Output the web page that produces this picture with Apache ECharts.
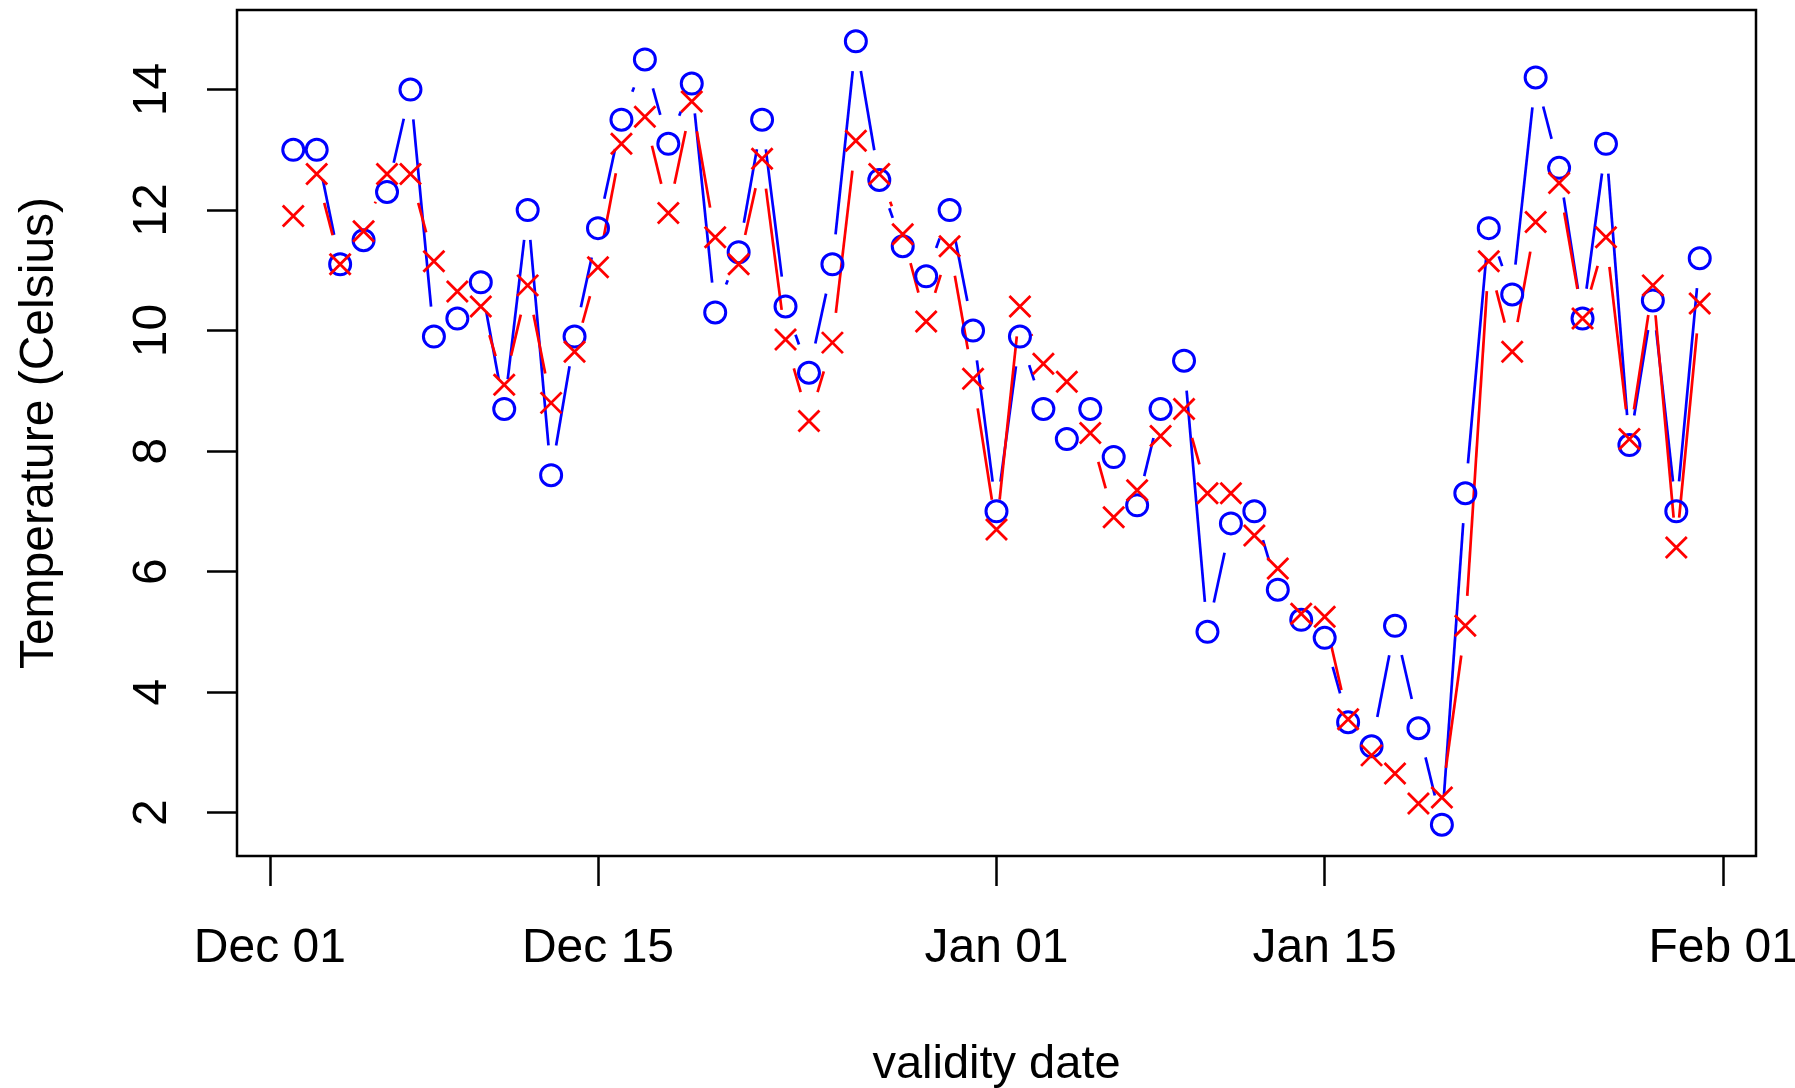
<!DOCTYPE html>
<html>
<head>
<meta charset="utf-8">
<title>Temperature by validity date</title>
<script src="https://cdn.jsdelivr.net/npm/echarts@6/dist/echarts.min.js"></script>
<style>
  html, body { margin: 0; padding: 0; background: #fff; }
  #chart { width: 1795px; height: 1088px; }
</style>
</head>
<body>
<div id="chart"></div>
<script>
// one value per day, Dec 02 .. Jan 31
const dates = [
  '2014-12-02', '2014-12-03', '2014-12-04', '2014-12-05', '2014-12-06', '2014-12-07', '2014-12-08',
  '2014-12-09', '2014-12-10', '2014-12-11', '2014-12-12', '2014-12-13', '2014-12-14', '2014-12-15',
  '2014-12-16', '2014-12-17', '2014-12-18', '2014-12-19', '2014-12-20', '2014-12-21', '2014-12-22',
  '2014-12-23', '2014-12-24', '2014-12-25', '2014-12-26', '2014-12-27', '2014-12-28', '2014-12-29',
  '2014-12-30', '2014-12-31', '2015-01-01', '2015-01-02', '2015-01-03', '2015-01-04', '2015-01-05',
  '2015-01-06', '2015-01-07', '2015-01-08', '2015-01-09', '2015-01-10', '2015-01-11', '2015-01-12',
  '2015-01-13', '2015-01-14', '2015-01-15', '2015-01-16', '2015-01-17', '2015-01-18', '2015-01-19',
  '2015-01-20', '2015-01-21', '2015-01-22', '2015-01-23', '2015-01-24', '2015-01-25', '2015-01-26',
  '2015-01-27', '2015-01-28', '2015-01-29', '2015-01-30', '2015-01-31'
]

// blue circles
const observed = [
  13.0, 13.0, 11.1, 11.5, 12.3, 14.0, 9.9, 10.2, 10.8, 8.7, 12.0, 7.6, 9.9, 11.7,
  13.5, 14.5, 13.1, 14.1, 10.3, 11.3, 13.5, 10.4, 9.3, 11.1, 14.8, 12.5, 11.4, 10.9,
  12.0, 10.0, 7.0, 9.9, 8.7, 8.2, 8.7, 7.9, 7.1, 8.7, 9.5, 5.0, 6.8, 7.0, 5.7, 5.2,
  4.9, 3.5, 3.1, 5.1, 3.4, 1.8, 7.3, 11.7, 10.6, 14.2, 12.7, 10.2, 13.1, 8.1, 10.5,
  7.0, 11.2
]

// red crosses
const forecast = [
  11.9, 12.6, 11.1, 11.65, 12.6, 12.6, 11.15, 10.65, 10.4, 9.1, 10.75, 8.8, 9.65, 11.05,
  13.1, 13.55, 11.95, 13.8, 11.55, 11.1, 12.85, 9.85, 8.5, 9.8, 13.15, 12.6, 11.6, 10.15,
  11.4, 9.2, 6.7, 10.4, 9.45, 9.15, 8.3, 6.9, 7.35, 8.25, 8.7, 7.3, 7.3, 6.6, 6.05, 5.3,
  5.25, 3.55, 2.95, 2.65, 2.15, 2.25, 5.1, 11.15, 9.65, 11.8, 12.45, 10.2, 11.55, 8.2,
  10.75, 6.4, 10.45
]

const xTicks = ['2014-12-01', '2014-12-15', '2015-01-01', '2015-01-15', '2015-02-01']
const yTicks = [2, 4, 6, 8, 10, 12, 14]
const monthNames = ['Jan', 'Feb', 'Mar', 'Apr', 'May', 'Jun', 'Jul', 'Aug', 'Sep', 'Oct', 'Nov', 'Dec']

const FONT = "'Liberation Sans', Arial, sans-serif"
const GAP = 30 // R type="b": lines stop short of the points

const toTime = s => {
  const [y, m, d] = s.split('-').map(Number)
  return new Date(y, m - 1, d).getTime()
}
const times = dates.map(toTime)

// R-style 4% padding of the data range
const tPad = (times[times.length - 1] - times[0]) * 0.04
const vMin = Math.min(...observed), vMax = Math.max(...observed)
const vPad = (vMax - vMin) * 0.04

const points = values => values.map((v, i) => [times[i], v])
const segments = values =>
  values.slice(1).map((v, i) => [times[i], values[i], times[i + 1], v])

const gapLine = color => (params, api) => {
  const a = api.coord([api.value(0), api.value(1)])
  const b = api.coord([api.value(2), api.value(3)])
  const dx = b[0] - a[0]
  const dy = b[1] - a[1]
  const len = Math.sqrt(dx * dx + dy * dy)
  if (len <= 2 * GAP) return
  const f = GAP / len
  return {
    type: 'line',
    shape: { x1: a[0] + f * dx, y1: a[1] + f * dy, x2: b[0] - f * dx, y2: b[1] - f * dy },
    style: { stroke: color, lineWidth: 2.7 }
  }
}

const tickStyle = { show: true, inside: false, length: 30, lineStyle: { color: '#000', width: 2.5 } }

const chart = echarts.init(document.getElementById('chart'))
chart.setOption({
  animation: false,
  backgroundColor: '#fff',
  grid: {
    left: 237, right: 39, top: 10, bottom: 232,
    show: true, borderColor: '#000', borderWidth: 2.5,
    containLabel: false, outerBoundsMode: 'none'
  },
  xAxis: {
    type: 'value',
    min: times[0] - tPad,
    max: times[times.length - 1] + tPad,
    name: 'validity date',
    nameLocation: 'middle',
    nameGap: 186,
    nameTextStyle: { color: '#000', fontSize: 47, fontFamily: FONT },
    axisLine: { show: false },
    axisTick: { ...tickStyle, customValues: xTicks.map(toTime) },
    axisLabel: {
      customValues: xTicks.map(toTime),
      margin: 69,
      color: '#000', fontSize: 48, fontFamily: FONT,
      formatter: v => {
        const d = new Date(v)
        return monthNames[d.getMonth()] + ' ' + String(d.getDate()).padStart(2, '0')
      }
    },
    splitLine: { show: false }
  },
  yAxis: {
    type: 'value',
    min: vMin - vPad,
    max: vMax + vPad,
    name: 'Temperature (Celsius)',
    nameLocation: 'middle',
    nameGap: 173,
    nameTextStyle: { color: '#000', fontSize: 48, fontFamily: FONT },
    axisLine: { show: false },
    axisTick: { ...tickStyle, customValues: yTicks },
    axisLabel: {
      customValues: yTicks,
      rotate: 90,
      margin: 60,
      color: '#000', fontSize: 48, fontFamily: FONT
    },
    splitLine: { show: false }
  },
  series: [
    {
      type: 'custom',
      renderItem: gapLine('#0000ff'),
      encode: { x: [0, 2], y: [1, 3] },
      data: segments(observed),
      silent: true
    },
    {
      type: 'scatter',
      data: points(observed),
      symbol: 'circle',
      symbolSize: 21,
      itemStyle: { color: 'rgba(0,0,0,0)', borderColor: '#0000ff', borderWidth: 3, opacity: 1 },
      silent: true
    },
    {
      type: 'custom',
      renderItem: gapLine('#ff0000'),
      encode: { x: [0, 2], y: [1, 3] },
      data: segments(forecast),
      silent: true
    },
    {
      type: 'scatter',
      data: points(forecast),
      symbol: 'path://M0 0L10 10M10 0L0 10',
      symbolSize: 21,
      itemStyle: { color: 'rgba(0,0,0,0)', borderColor: '#ff0000', borderWidth: 2.8, opacity: 1 },
      silent: true
    }
  ]
})
</script>
</body>
</html>
